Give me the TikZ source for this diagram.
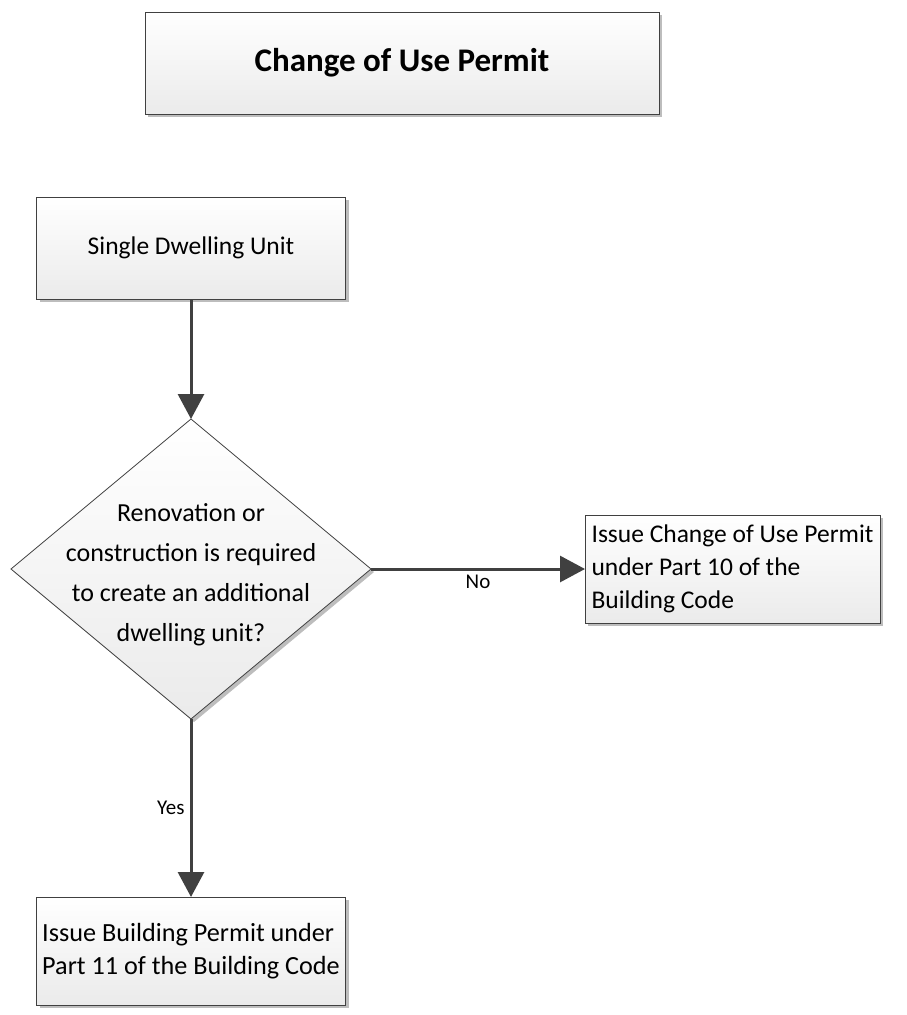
\documentclass[tikz,border=0pt]{standalone}
\usepackage{fontspec}
\setmainfont{Carlito}
\usetikzlibrary{shapes.geometric, arrows.meta, shadows}
\definecolor{linegray}{HTML}{404040}
\definecolor{shadowgray}{HTML}{BDBDBD}

\begin{document}
\begin{tikzpicture}[x=1pt, y=-1pt,
    box/.style={draw=linegray, line width=0.8pt, rectangle, outer sep=0pt,
        top color=white, bottom color=black!8,
        drop shadow={shadow xshift=3pt, shadow yshift=-3pt, fill=shadowgray, opacity=1},
        font=\fontsize{25.5}{33}\selectfont},
    decision/.style={box, diamond, inner sep=-45pt, align=center,
        minimum width=360pt, minimum height=300pt,
        font=\fontsize{26}{40}\selectfont},
    flow/.style={draw=linegray, line width=3pt, -{Triangle[length=25pt, width=26pt]}},
    lbl/.style={font=\fontsize{21}{25}\selectfont, inner sep=5pt}]
    \useasboundingbox (0,0) rectangle (907,1015);
    % Draw title
    \node[box, minimum width=514pt, minimum height=102pt,
        font=\fontsize{33}{40}\selectfont\bfseries] (title) at (402,63) {Change of Use Permit};
    % Draw start and question
    \node[box, minimum width=309pt, minimum height=102pt] (single) at (191,248) {Single Dwelling Unit};
    \node[decision] (renov) at (191,569)
        {\rule{0pt}{29pt}Renovation or\\construction is required\\to create an additional\\dwelling unit?};
    % Draw outcomes
    \node[box, minimum width=295pt, minimum height=108pt, align=left] (cou) at (732.5,569)
        {Issue Change of Use Permit\\under Part 10 of the\\Building Code};
    \node[box, minimum width=309pt, minimum height=108pt, align=left,
        font=\fontsize{26.2}{33}\selectfont] (bp) at (191,951)
        {Issue Building Permit under\\Part 11 of the Building Code};
    % Draw connectors
    \draw[flow] (single.south) -- (renov.north);
    \draw[flow] (renov.east) -- (cou.west) node[lbl, midway, below] {No};
    \draw[flow] (renov.south) -- (bp.north) node[lbl, midway, left] {Yes};
\end{tikzpicture}
\end{document}
